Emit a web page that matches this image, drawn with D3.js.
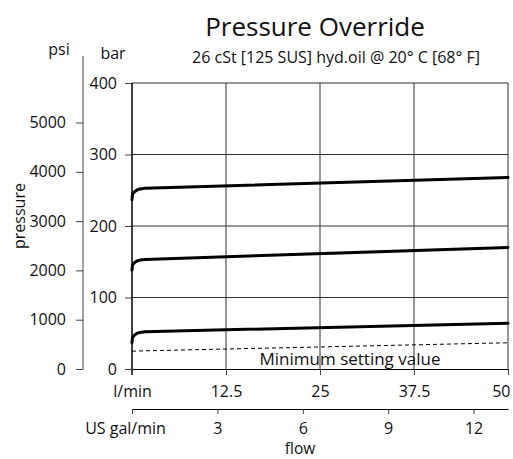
<!DOCTYPE html>
<html>
<head>
<meta charset="utf-8">
<script src="https://cdn.jsdelivr.net/npm/d3@7"></script>
<style>
  body { margin: 0; background: #fff; }
  svg text { font-family: "Open Sans", sans-serif; fill: #111; }
</style>
</head>
<body>
<div id="chart"></div>
<script>
// data (flow in l/min, pressure in bar)
var curveFlow = [0, 0.07, 0.3, 0.65, 1.06, 1.73, 50];
var highBar = [237, 244.5, 247.5, 250.3, 251.7, 252.7, 268];
var midBar = [138.5, 145.5, 148.5, 151, 152.3, 153.2, 170];
var lowBar = [36.8, 44, 47, 49.8, 51.2, 52.2, 64];
var minFlow = [0, 50];
var minBar = [25, 36.7];

var barTicks = [0, 100, 200, 300, 400];
var psiTicks = [0, 1000, 2000, 3000, 4000, 5000];
var lpmTicks = [0, 12.5, 25, 37.5, 50];
var galTicks = [0, 3, 6, 9, 12];

var BAR_TO_PSI = 14.5038;
var LPM_PER_GAL = 3.78541;

var W = 513, H = 459;
var plot = { left: 132, right: 508, top: 83, bottom: 369 };

var svg = d3.select("#chart").append("svg")
    .attr("width", W)
    .attr("height", H);

var x = d3.scaleLinear().domain([0, 50]).range([plot.left, plot.right]);
var y = d3.scaleLinear().domain([0, 400]).range([plot.bottom, plot.top]);
var yPsi = d3.scaleLinear().domain([0, 400 * BAR_TO_PSI]).range([plot.bottom, plot.top]);
var xGal = d3.scaleLinear().domain([0, 50 / LPM_PER_GAL]).range([plot.left, plot.right]);

// grid
svg.append("g").selectAll("line")
    .data(barTicks.slice(1))
    .enter().append("line")
    .attr("x1", plot.left).attr("x2", plot.right)
    .attr("y1", function(d) { return y(d); })
    .attr("y2", function(d) { return y(d); })
    .attr("stroke", "#333").attr("stroke-width", 1);

svg.append("g").selectAll("line")
    .data(lpmTicks.slice(1))
    .enter().append("line")
    .attr("y1", plot.top).attr("y2", plot.bottom)
    .attr("x1", function(d) { return x(d); })
    .attr("x2", function(d) { return x(d); })
    .attr("stroke", "#333").attr("stroke-width", 1);

// bar axis
var barAxis = svg.append("g")
    .attr("transform", "translate(" + plot.left + ",0)")
    .call(d3.axisLeft(y).tickValues(barTicks).tickSize(7).tickPadding(8));
barAxis.select(".domain").remove();

svg.append("line")
    .attr("x1", plot.left).attr("x2", plot.left)
    .attr("y1", plot.top).attr("y2", plot.bottom + 6)
    .attr("stroke", "#000").attr("stroke-width", 1.5);

// psi axis
var psiX = 83;
var psiAxis = svg.append("g")
    .attr("transform", "translate(" + psiX + ",0)")
    .call(d3.axisLeft(yPsi).tickValues(psiTicks).tickSize(7).tickPadding(10)
        .tickFormat(d3.format("d")));
psiAxis.select(".domain").remove();
svg.append("line")
    .attr("x1", psiX).attr("x2", psiX)
    .attr("y1", yPsi(0) + 1).attr("y2", yPsi(6350))
    .attr("stroke", "#444").attr("stroke-width", 1);

// l/min axis
var lpmAxis = svg.append("g")
    .attr("transform", "translate(0," + plot.bottom + ")")
    .call(d3.axisBottom(x).tickValues(lpmTicks).tickSize(6).tickPadding(11)
        .tickFormat(function(d) { return d === 0 ? "l/min" : d; }));
lpmAxis.select(".domain").attr("stroke", "#000");
lpmAxis.selectAll(".tick text").filter(function(d) { return d === 50; })
    .attr("text-anchor", "end").attr("x", 2);

// US gal/min axis
var galAxis = svg.append("g")
    .attr("transform", "translate(0,409)")
    .call(d3.axisBottom(xGal).tickValues(galTicks).tickSize(5).tickPadding(9).tickSizeOuter(0)
        .tickFormat(function(d) { return d === 0 ? "US gal/min" : d; }));
galAxis.selectAll(".tick text").filter(function(d) { return d === 0; })
    .attr("x", -7);

svg.selectAll(".tick text").style("font-size", "16px").style("font-family", "'Open Sans', sans-serif");
svg.selectAll(".tick line").attr("stroke", "#444");

// curves
var line = d3.line()
    .x(function(d) { return x(d[0]); })
    .y(function(d) { return y(d[1]); });

[highBar, midBar, lowBar].forEach(function(series) {
    svg.append("path")
        .datum(curveFlow.map(function(f, i) { return [f, series[i]]; }))
        .attr("d", line)
        .attr("fill", "none")
        .attr("stroke", "#000")
        .attr("stroke-width", 3)
        .attr("stroke-linejoin", "round")
        .attr("stroke-linecap", "round");
});

svg.append("path")
    .datum(minFlow.map(function(f, i) { return [f, minBar[i]]; }))
    .attr("d", line)
    .attr("fill", "none")
    .attr("stroke", "#000")
    .attr("stroke-width", 1)
    .attr("stroke-dasharray", "4,3");

svg.append("text")
    .attr("x", 350).attr("y", 365)
    .attr("text-anchor", "middle")
    .style("font-size", "17px")
    .text("Minimum setting value");

// titles and labels
svg.append("text")
    .attr("x", 315).attr("y", 36)
    .attr("text-anchor", "middle")
    .style("font-size", "26px")
    .text("Pressure Override");

svg.append("text")
    .attr("x", 336).attr("y", 63)
    .attr("text-anchor", "middle")
    .style("font-size", "16px")
    .text("26 cSt [125 SUS] hyd.oil @ 20° C [68° F]");

svg.append("text")
    .attr("x", 59).attr("y", 55)
    .attr("text-anchor", "middle")
    .style("font-size", "16px")
    .text("psi");

svg.append("text")
    .attr("x", 113).attr("y", 59)
    .attr("text-anchor", "middle")
    .style("font-size", "16px")
    .text("bar");

svg.append("text")
    .attr("transform", "translate(25,216) rotate(-90)")
    .attr("text-anchor", "middle")
    .style("font-size", "16px")
    .text("pressure");

svg.append("text")
    .attr("x", 300).attr("y", 454)
    .attr("text-anchor", "middle")
    .style("font-size", "15.5px")
    .text("flow");
</script>
</body>
</html>
